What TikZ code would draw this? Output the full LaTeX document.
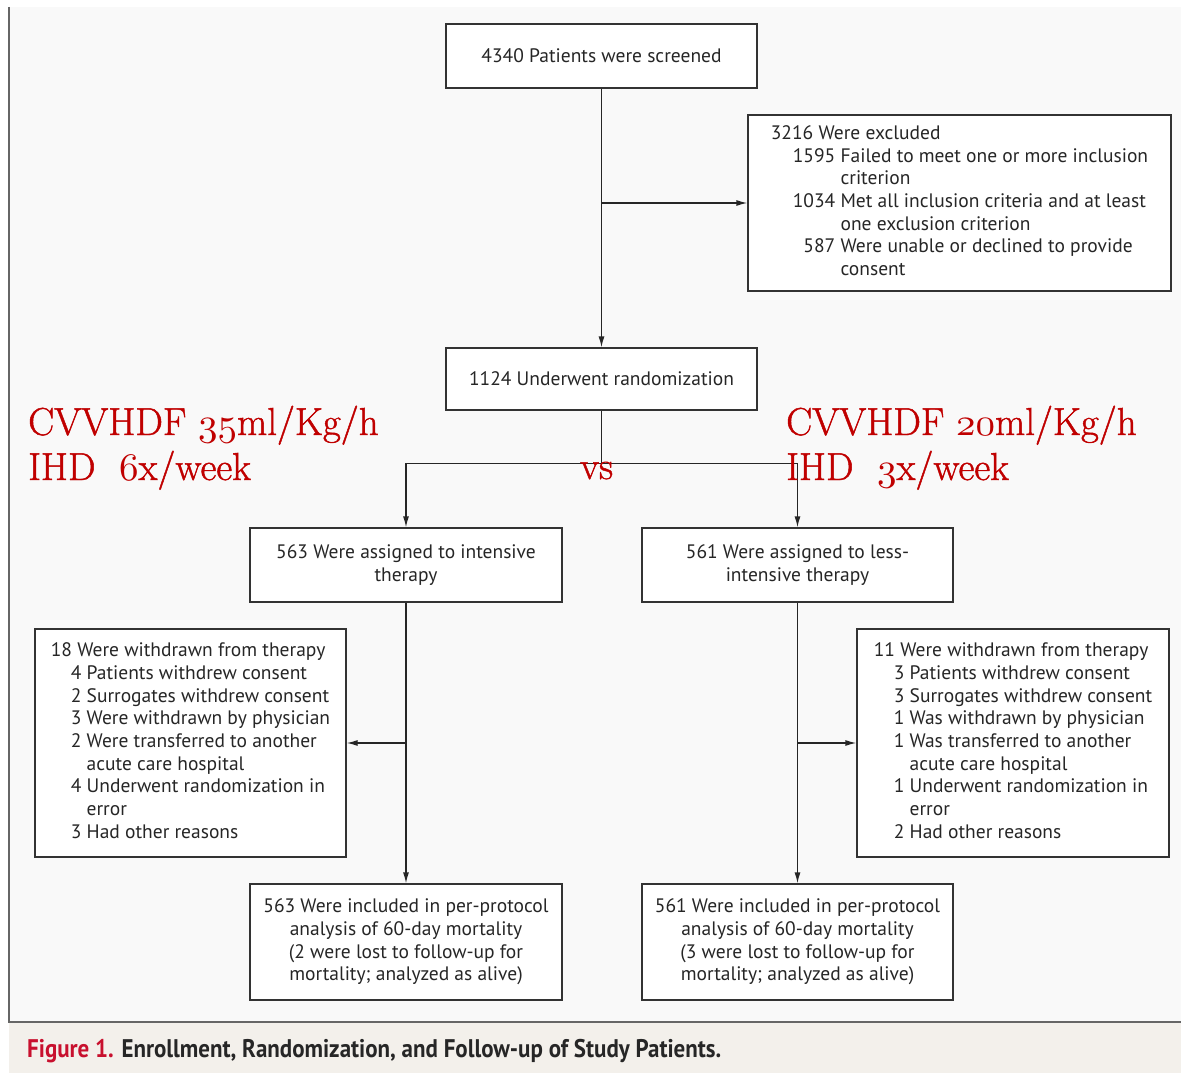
\documentclass[tikz,border=0pt]{standalone}
\usepackage{fontspec}
\usepackage{tikz}
\usepackage{xcolor}
\usetikzlibrary{arrows.meta}

\newfontfamily\boxfont{PT Sans}
\newfontfamily\capfont{PT Sans}[FakeStretch=0.9]
\newfontfamily\annofont{Latin Modern Roman}[FakeBold=1.2]
\newcommand\boxtext{\boxfont\fontsize{19.5}{22.7}\selectfont}
% old style digits from the LM math italic, blown up to 39pt
\newcommand\osf[1]{\scalebox{3.9}{\fontsize{10}{12}\usefont{OML}{lmm}{b}{it}#1}}

\definecolor{annored}{RGB}{192,0,0}
\definecolor{figred}{RGB}{200,16,46}
\definecolor{panelgray}{RGB}{249,249,249}
\definecolor{capbeige}{RGB}{243,240,235}

\begin{document}
\begin{tikzpicture}[x=1pt,y=-1pt,
  box/.style={draw=black!80, line width=1.3pt, fill=white, font=\boxtext, text=black!85, align=center, inner sep=0pt},
  arr/.style={-{Latex[length=11pt,width=6pt]}, line width=1.3pt, draw=black!85},
  annot/.style={text=annored, font=\annofont\fontsize{39}{45}\selectfont, anchor=base west, inner sep=0pt}]
\useasboundingbox (0,0) rectangle (1181,1073);
\fill[white] (0,0) rectangle (1181,1073);
\fill[panelgray] (9,7) rectangle (1181,1022);
\fill[capbeige] (9,1022) rectangle (1181,1073);
\draw[black!60, line width=1.5pt] (9,7) -- (9,1022) -- (1181,1022);

\node[box, minimum width=311pt, minimum height=64pt] (screen) at (601.5,56) {4340 Patients were screened};
\node[box, minimum width=423pt, minimum height=176pt] (excl) at (959.5,203) {%
\begin{tabular}{@{\hspace{22pt}}r@{\ }l@{}}
\multicolumn{2}{@{}l@{}}{3216 Were excluded}\\
1595 & Failed to meet one or more inclusion\\
 & criterion\\
1034 & Met all inclusion criteria and at least\\
 & one exclusion criterion\\
587 & Were unable or declined to provide\\
 & consent
\end{tabular}};
\node[box, minimum width=311pt, minimum height=62pt] (rand) at (601.5,379) {1124 Underwent randomization};

\node[box, minimum width=312pt, minimum height=74pt] (intens) at (406,565) {563 Were assigned to intensive\\therapy};
\node[box, minimum width=311pt, minimum height=74pt] (less) at (797.5,565) {561 Were assigned to less-\\intensive therapy};

\node[box, minimum width=311pt, minimum height=228pt] (wdL) at (190.5,743) {%
\begin{tabular}{@{\hspace{20pt}}r@{\ }l@{}}
\multicolumn{2}{@{}l@{}}{18 Were withdrawn from therapy}\\
4 & Patients withdrew consent\\
2 & Surrogates withdrew consent\\
3 & Were withdrawn by physician\\
2 & Were transferred to another\\
 & acute care hospital\\
4 & Underwent randomization in\\
 & error\\
3 & Had other reasons
\end{tabular}};
\node[box, minimum width=312pt, minimum height=228pt] (wdR) at (1013,743) {%
\begin{tabular}{@{\hspace{20pt}}r@{\ }l@{}}
\multicolumn{2}{@{}l@{}}{11 Were withdrawn from therapy}\\
3 & Patients withdrew consent\\
3 & Surrogates withdrew consent\\
1 & Was withdrawn by physician\\
1 & Was transferred to another\\
 & acute care hospital\\
1 & Underwent randomization in\\
 & error\\
2 & Had other reasons
\end{tabular}};

\node[box, minimum width=312pt, minimum height=116pt] (finL) at (406,942) {563 Were included in per-protocol\\analysis of 60-day mortality\\(2 were lost to follow-up for\\mortality; analyzed as alive)};
\node[box, minimum width=311pt, minimum height=116pt] (finR) at (797.5,942) {561 Were included in per-protocol\\analysis of 60-day mortality\\(3 were lost to follow-up for\\mortality; analyzed as alive)};

\draw[arr] (screen.south) -- (rand.north);
\draw[arr] (screen.south |- excl.west) -- (excl.west);
\draw[line width=1.3pt, black!85] (rand.south) -- ++(0,53) coordinate (split);
\draw[arr] (split) -| (intens.north);
\draw[arr] (split) -| (less.north);
\draw[arr] (intens.south) -- (finL.north);
\draw[arr] (less.south) -- (finR.north);
\draw[arr] (intens.south |- wdL.east) -- (wdL.east);
\draw[arr] (less.south |- wdR.west) -- (wdR.west);

\node[annot] (cvvL) at (28,435) {CVVHDF \osf{35}ml/Kg/h};
\node[annot] (ihdL) at (28,480) {IHD\ \ \osf{6}x/week};
\node[annot] (cvvR) at (786,435) {CVVHDF \osf{20}ml/Kg/h};
\node[annot] (ihdR) at (786,480) {IHD\ \ \osf{3}x/week};
\node[annot] (vs) at (580,479) {vs};

\node[anchor=base west, inner sep=0pt, text=black!85, font=\capfont\bfseries\fontsize{25.5}{28}\selectfont] (caption) at (27,1057)
  {\textcolor{figred}{Figure 1.} Enrollment, Randomization, and Follow-up of Study Patients.};
\end{tikzpicture}
\end{document}
